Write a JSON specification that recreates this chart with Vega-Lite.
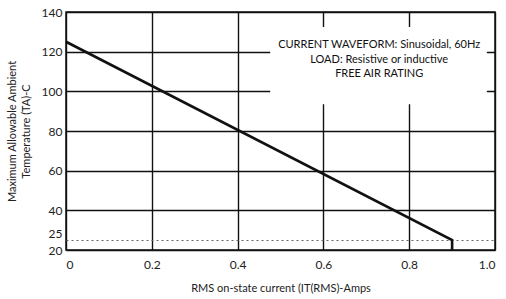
{
  "$schema": "https://vega.github.io/schema/vega-lite/v6.json",
  "autosize": "none",
  "width": 429,
  "height": 238,
  "padding": {"left": 66, "top": 12, "right": 11, "bottom": 49},
  "background": "white",
  "config": {
    "font": "Lato",
    "view": {"stroke": "#111", "strokeWidth": 1.5},
    "axis": {"labelFont": "Lato", "titleFont": "Lato", "labelColor": "#222", "titleColor": "#222", "titleFontWeight": "normal", "domain": false, "ticks": false}
  },
  "datasets": {
    "curve": [
      {"current": 0, "temp": 125},
      {"current": 0.9, "temp": 25},
      {"current": 0.9, "temp": 20}
    ],
    "box": [
      {"x1": 0.476, "x2": 0.981, "y1": 93.5, "y2": 132.5}
    ],
    "notes": [
      {"x": 0.73, "y": 123.5, "label": "CURRENT WAVEFORM: Sinusoidal, 60Hz"},
      {"x": 0.73, "y": 116, "label": "LOAD: Resistive or inductive"},
      {"x": 0.73, "y": 108.5, "label": "FREE AIR RATING"}
    ]
  },
  "layer": [
    {
      "data": {"name": "curve"},
      "mark": {"type": "line", "color": "#111", "strokeWidth": 2.6, "strokeCap": "butt", "strokeJoin": "miter"},
      "encoding": {
        "x": {
          "field": "current", "type": "quantitative",
          "scale": {"domain": [0, 1], "nice": false},
          "axis": {
            "values": [0, 0.2, 0.4, 0.6, 0.8, 1.0],
            "tickCount": 20,
            "labelExpr": "datum.value === 0 ? '0' : format(datum.value, '.1f')",
            "labelFontSize": 12, "labelPadding": 9,
            "grid": true, "gridColor": "#111", "gridWidth": 1.4, "gridOpacity": 1,
            "title": "RMS on-state current (IT(RMS)-Amps",
            "titleFontSize": 11, "titlePadding": 12
          }
        },
        "y": {
          "field": "temp", "type": "quantitative",
          "scale": {"domain": [20, 140], "nice": false},
          "axis": {
            "values": [20, 25, 40, 60, 80, 100, 120, 140],
            "tickCount": 20,
            "labelFontSize": 12, "labelPadding": 4, "labelOverlap": false, "labelBound": false,
            "labelBaseline": {"condition": {"test": "datum.value === 25", "value": "bottom"}, "value": "middle"},
            "grid": true, "gridOpacity": 1,
            "gridColor": {"condition": {"test": "datum.value === 25", "value": "#666"}, "value": "#111"},
            "gridWidth": {"condition": {"test": "datum.value === 25", "value": 1.1}, "value": 1.4},
            "gridDash": {"condition": {"test": "datum.value === 25", "value": [2, 3]}, "value": []},
            "title": ["Maximum Allowable Ambient", "Temperature (TA)-C"],
            "titleFontSize": 11, "titlePadding": 10, "titleLineHeight": 14
          }
        },
        "order": {"field": "temp", "sort": "descending"}
      }
    },
    {
      "data": {"name": "box"},
      "mark": {"type": "rect", "color": "white"},
      "encoding": {
        "x": {"field": "x1", "type": "quantitative"},
        "x2": {"field": "x2"},
        "y": {"field": "y1", "type": "quantitative"},
        "y2": {"field": "y2"}
      }
    },
    {
      "data": {"name": "notes"},
      "mark": {"type": "text", "fontSize": 11, "color": "#111", "align": "center", "baseline": "middle"},
      "encoding": {
        "x": {"field": "x", "type": "quantitative"},
        "y": {"field": "y", "type": "quantitative"},
        "text": {"field": "label"}
      }
    }
  ]
}
